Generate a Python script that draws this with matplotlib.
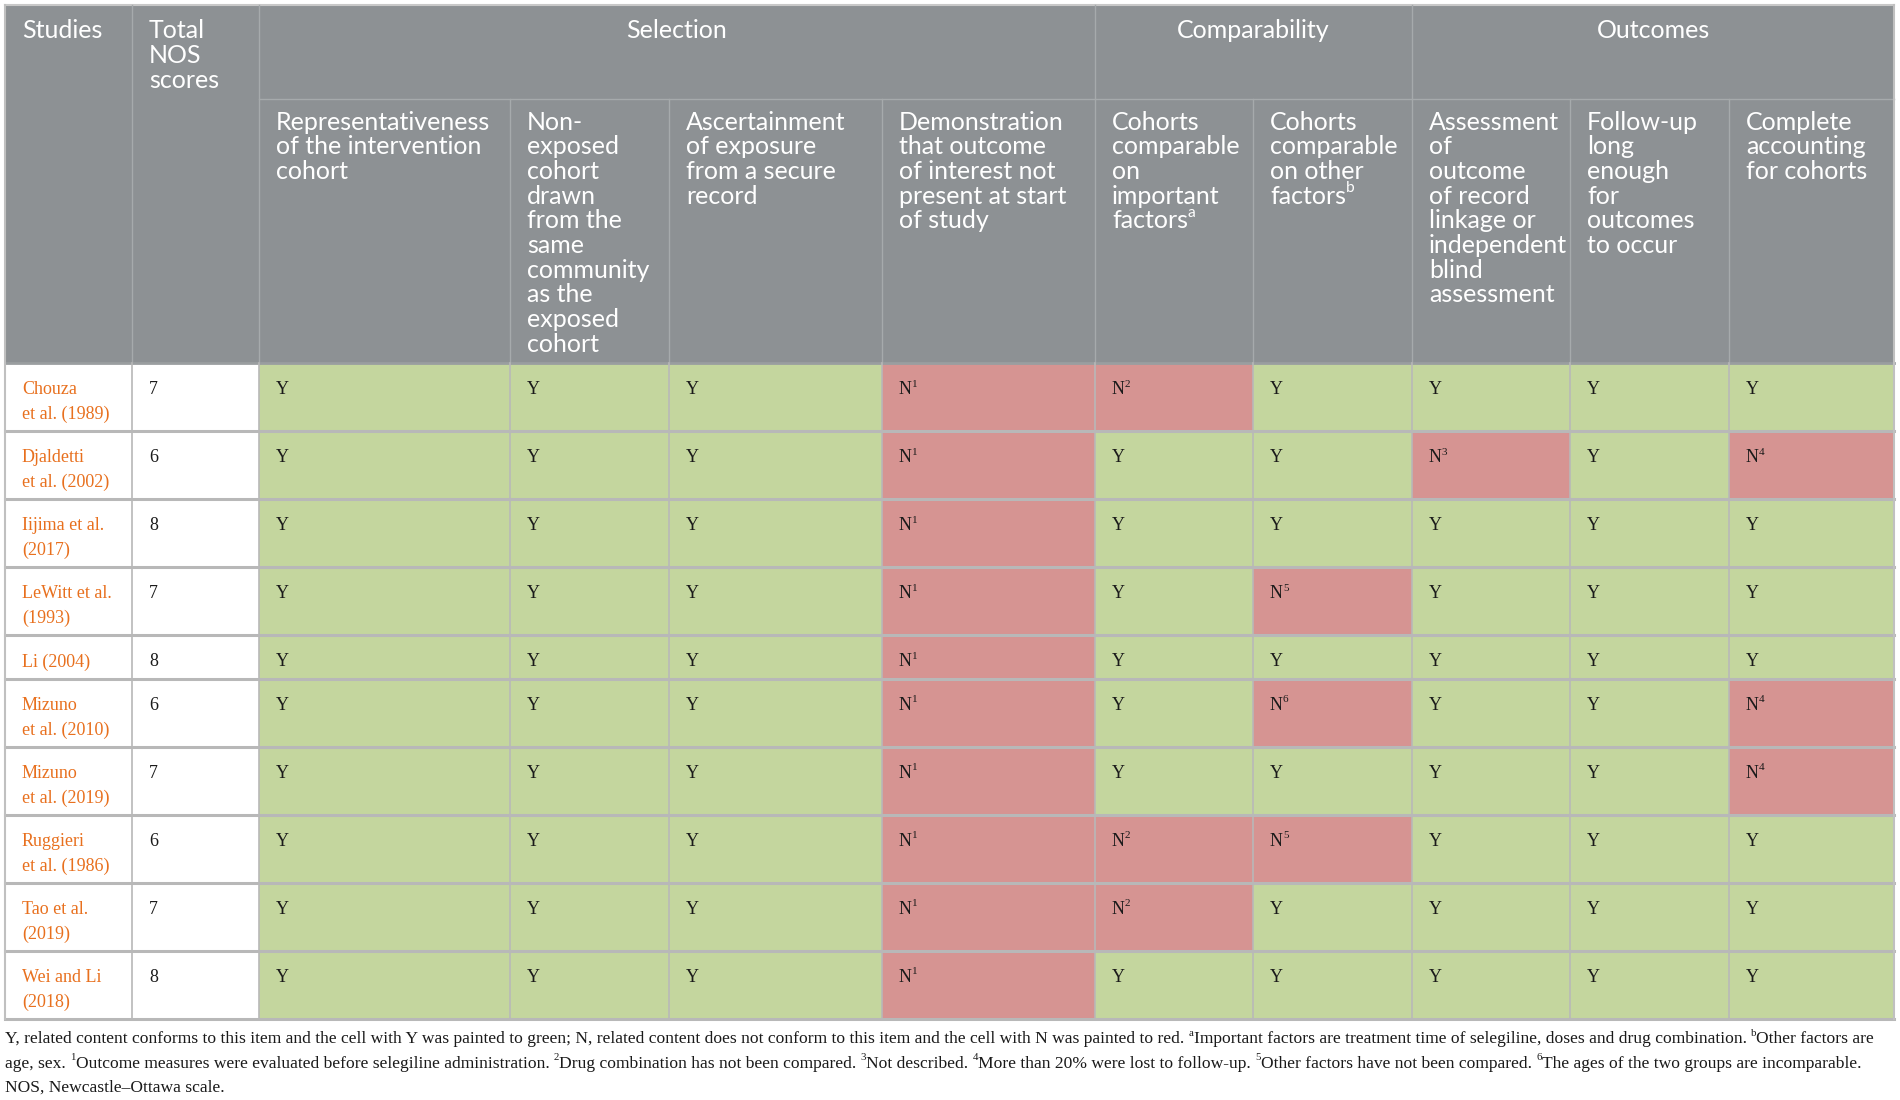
import matplotlib.pyplot as plt
from matplotlib.patches import Rectangle

# table content
studies = ["Chouza\net al. (1989)", "Djaldetti\net al. (2002)", "Iijima et al.\n(2017)",
           "LeWitt et al.\n(1993)", "Li (2004)", "Mizuno\net al. (2010)", "Mizuno\net al. (2019)",
           "Ruggieri\net al. (1986)", "Tao et al.\n(2019)", "Wei and Li\n(2018)"]
nos_scores = [7, 6, 8, 7, 8, 6, 7, 6, 7, 8]

groups = ["Selection", "Comparability", "Outcomes"]
group_span = [4, 2, 3]

items = ["Representativeness\nof the intervention\ncohort",
         "Non-\nexposed\ncohort\ndrawn\nfrom the\nsame\ncommunity\nas the\nexposed\ncohort",
         "Ascertainment\nof exposure\nfrom a secure\nrecord",
         "Demonstration\nthat outcome\nof interest not\npresent at start\nof study",
         "Cohorts\ncomparable\non\nimportant\nfactors^a",
         "Cohorts\ncomparable\non other\nfactors^b",
         "Assessment\nof\noutcome\nof record\nlinkage or\nindependent\nblind\nassessment",
         "Follow-up\nlong\nenough\nfor\noutcomes\nto occur",
         "Complete\naccounting\nfor cohorts"]

representativeness = ["Y", "Y", "Y", "Y", "Y", "Y", "Y", "Y", "Y", "Y"]
non_exposed = ["Y", "Y", "Y", "Y", "Y", "Y", "Y", "Y", "Y", "Y"]
ascertainment = ["Y", "Y", "Y", "Y", "Y", "Y", "Y", "Y", "Y", "Y"]
demonstration = ["N1", "N1", "N1", "N1", "N1", "N1", "N1", "N1", "N1", "N1"]
comp_important = ["N2", "Y", "Y", "Y", "Y", "Y", "Y", "N2", "N2", "Y"]
comp_other = ["Y", "Y", "Y", "N5", "Y", "N6", "Y", "N5", "Y", "Y"]
assessment = ["Y", "N3", "Y", "Y", "Y", "Y", "Y", "Y", "Y", "Y"]
follow_up = ["Y", "Y", "Y", "Y", "Y", "Y", "Y", "Y", "Y", "Y"]
complete = ["Y", "N4", "Y", "Y", "Y", "N4", "N4", "Y", "Y", "Y"]
ratings = [representativeness, non_exposed, ascertainment, demonstration,
           comp_important, comp_other, assessment, follow_up, complete]

footnotes = [
    [("Y, related content conforms to this item and the cell with Y was painted to green; N, related content "
      "does not conform to this item and the cell with N was painted to red. ", 0), ("a", 1),
     ("Important factors are treatment time of selegiline, doses and drug combination. ", 0), ("b", 1),
     ("Other factors are", 0)],
    [("age, sex. ", 0), ("1", 1), ("Outcome measures were evaluated before selegiline administration. ", 0),
     ("2", 1), ("Drug combination has not been compared. ", 0), ("3", 1), ("Not described. ", 0),
     ("4", 1), ("More than 20% were lost to follow-up. ", 0), ("5", 1),
     ("Other factors have not been compared. ", 0), ("6", 1), ("The ages of the two groups are incomparable.", 0)],
    [("NOS, Newcastle\u2013Ottawa scale.", 0)],
]

# colours
HEAD = "#8d9194"
HEAD_LINE = "#a6aaac"
GREEN = "#c4d69e"
RED = "#d69492"
GRID = "#b8b8b8"
ORANGE = "#e8701e"
SANS = ["Lato", "DejaVu Sans"]
SERIF = ["Liberation Serif", "DejaVu Serif"]

fig = plt.figure(figsize=(19, 11), dpi=100)
ax = fig.add_axes([0, 0, 1, 1])
ax.set_xlim(0, 1900)
ax.set_ylim(1100, 0)
ax.axis("off")
renderer = fig.canvas.get_renderer()


def text_width(s, size, family):
    t = ax.text(0, 0, s.rstrip() + "|", fontsize=size, family=family)
    w = t.get_window_extent(renderer).width
    t.remove()
    bar = ax.text(0, 0, "|", fontsize=size, family=family)
    w -= bar.get_window_extent(renderer).width
    bar.remove()
    n = len(s) - len(s.rstrip())
    if n:
        a = ax.text(0, 0, "a a", fontsize=size, family=family)
        b = ax.text(0, 0, "aa", fontsize=size, family=family)
        w += n * (a.get_window_extent(renderer).width - b.get_window_extent(renderer).width)
        a.remove()
        b.remove()
    return w


def draw_runs(x, y, runs, size, family, color):
    for s, sup in runs:
        fs = size * 0.62 if sup else size
        yy = y - size / 0.72 * 0.33 if sup else y
        ax.text(x, yy, s, fontsize=fs, family=family, color=color, va="center", ha="left")
        x += text_width(s, fs, family)


def runs_of(s):
    # "factors^a" -> base + superscript, "N1" -> N + superscript
    if "^" in s:
        base, sup = s.split("^")
        return [(base, 0), (sup, 1)]
    if len(s) > 1 and s[1:].isdigit():
        return [(s[0], 0), (s[1:], 1)]
    return [(s, 0)]


col_w = [127, 127, 251, 159, 213, 213, 158, 159, 158, 159, 165]
x_left = [5]
for w in col_w:
    x_left.append(x_left[-1] + w)
top, mid, head_bot = 5, 99, 363
pad = 17
line_h = 24.7

# header background
ax.add_patch(Rectangle((x_left[0], top), x_left[-1] - x_left[0], head_bot - top, facecolor=HEAD, edgecolor="none"))
ax.plot([x_left[0], x_left[-1]], [top, top], color="#c8c8c8", lw=1.5)
ax.plot([x_left[2], x_left[-1]], [mid, mid], color=HEAD_LINE, lw=1)
for i in range(1, len(x_left) - 1):
    ax.plot([x_left[i], x_left[i]], [top if i in (1, 2, 6, 8) else mid, head_bot], color=HEAD_LINE, lw=1)

hsize = 18
draw_runs(x_left[0] + pad, 31, [("Studies", 0)], hsize, SANS, "white")
for k, ln in enumerate(["Total", "NOS", "scores"]):
    draw_runs(x_left[1] + pad, 31 + k * line_h, [(ln, 0)], hsize, SANS, "white")
c = 2
for g, span in zip(groups, group_span):
    ax.text((x_left[c] + x_left[c + span]) / 2, 31, g, fontsize=hsize, family=SANS, color="white",
            ha="center", va="center")
    c += span
for j, label in enumerate(items):
    for k, ln in enumerate(label.split("\n")):
        draw_runs(x_left[j + 2] + pad, 122 + k * line_h, runs_of(ln), hsize, SANS, "white")

# body
bsize = 13
y = head_bot
for r, name in enumerate(studies):
    nl = name.count("\n") + 1
    h = 19 + 24.5 * nl
    for j in range(len(ratings)):
        val = ratings[j][r]
        ax.add_patch(Rectangle((x_left[j + 2], y), col_w[j + 2], h,
                               facecolor=GREEN if val == "Y" else RED, edgecolor="none"))
        draw_runs(x_left[j + 2] + pad, y + 27, runs_of(val), bsize, SERIF, "#1a1a1a")
    for k, ln in enumerate(name.split("\n")):
        ax.text(x_left[0] + pad, y + 27 + k * 24.5, ln, fontsize=bsize, family=SERIF, color=ORANGE,
                va="center")
    ax.text(x_left[1] + pad, y + 27, str(nos_scores[r]), fontsize=bsize, family=SERIF, color="#1a1a1a",
            va="center")
    y += h
    ax.plot([x_left[0], x_left[-1]], [y, y], color=GRID, lw=2.2)
ax.plot([x_left[0], x_left[-1]], [head_bot, head_bot], color="#9a9ea0", lw=2)
for xv in x_left:
    ax.plot([xv, xv], [head_bot, y], color=GRID, lw=1.2)
ax.plot([x_left[0], x_left[0]], [top, y], color="#c0c0c0", lw=1.5)
ax.plot([x_left[-1], x_left[-1]], [top, y], color="#c0c0c0", lw=1.5)

# footnotes
for k, runs in enumerate(footnotes):
    draw_runs(5, 1039 + k * 24.5, runs, 12.6, SERIF, "#1a1a1a")

fig.savefig("out.png", dpi=100)
